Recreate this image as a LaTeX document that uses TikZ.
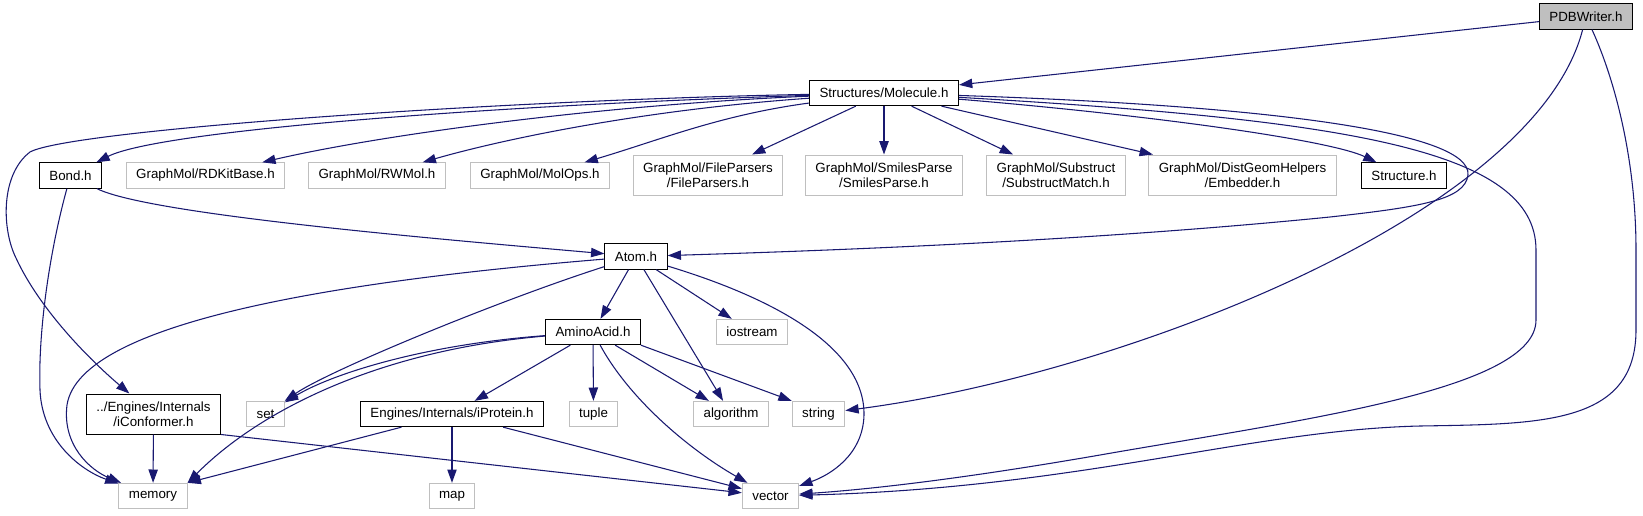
\documentclass[tikz,border=0pt]{standalone}
\usepackage{fontspec}
\setmainfont{Liberation Sans}
\usepackage{tikz}
\usetikzlibrary{arrows.meta}
\usepackage{xcolor}
\definecolor{depblue}{HTML}{191970}
\definecolor{sysgray}{HTML}{BFBFBF}

\begin{document}
\begin{tikzpicture}[
    x=0.75pt, y=-0.75pt,
    hdrbox/.style={draw=black, fill=white, line width=0.75pt, minimum height=19pt,
                   inner xsep=7.5pt, inner ysep=2pt, align=center,
                   font=\fontsize{10}{11.5}\selectfont},
    sysbox/.style={hdrbox, draw=sysgray},
    twoline/.style={minimum height=30pt},
    dep/.style={->, draw=depblue, line width=0.8pt},
    >={Triangle[length=10pt, width=7pt]}
]
\useasboundingbox (0,0) rectangle (1643,515);

\node[hdrbox, fill=sysgray] (pdb) at (1586,16.5) {PDBWriter.h};
\node[hdrbox] (mol) at (884,93) {Structures/Molecule.h};

\node[hdrbox] (bond) at (70.5,175.5) {Bond.h};
\node[sysbox] (rdkit) at (205.5,175.5) {GraphMol/RDKitBase.h};
\node[sysbox] (rwmol) at (377,175.5) {GraphMol/RWMol.h};
\node[sysbox] (molops) at (540,175.5) {GraphMol/MolOps.h};
\node[sysbox, twoline] (fileparsers) at (708,175) {GraphMol/FileParsers\\/FileParsers.h};
\node[sysbox, twoline] (smiles) at (884,175) {GraphMol/SmilesParse\\/SmilesParse.h};
\node[sysbox, twoline] (substruct) at (1056,175) {GraphMol/Substruct\\/SubstructMatch.h};
\node[sysbox, twoline] (embedder) at (1242.5,175) {GraphMol/DistGeomHelpers\\/Embedder.h};
\node[hdrbox] (structure) at (1404,175.5) {Structure.h};

\node[hdrbox] (atom) at (636,256.5) {Atom.h};
\node[hdrbox] (amino) at (593,332) {AminoAcid.h};
\node[sysbox] (iostream) at (752,332) {iostream};

\node[hdrbox, twoline] (iconf) at (153.5,414) {../Engines/Internals\\/iConformer.h};
\node[sysbox] (set) at (265.5,414) {set};
\node[hdrbox] (iprotein) at (452,414) {Engines/Internals/iProtein.h};
\node[sysbox] (tuple) at (593.5,414) {tuple};
\node[sysbox] (algorithm) at (731,414) {algorithm};
\node[sysbox] (string) at (818.5,414) {string};

\node[sysbox] (memory) at (153,496) {memory};
\node[sysbox] (map) at (452,496) {map};
\node[sysbox] (vector) at (770.5,496) {vector};

% PDBWriter.h
\draw[dep] (pdb) -- (mol);
\draw[dep] (pdb) .. controls (1535,215) and (1120,375) .. (string);
\draw[dep] (pdb) .. controls (1615,80) and (1636,160) .. (1636,250) -- (1636,330)
    .. controls (1636,425) and (1540,424) .. (1420,426)
    .. controls (1250,430) and (1080,488) .. (vector);

% Structures/Molecule.h
\draw[dep] (mol) .. controls (500,105) and (160,130) .. (bond);
\draw[dep] (mol) .. controls (600,105) and (380,135) .. (rdkit);
\draw[dep] (mol) .. controls (640,110) and (500,140) .. (rwmol);
\draw[dep] (mol) .. controls (720,115) and (660,140) .. (molops);
\draw[dep] (mol) -- (fileparsers);
\draw[dep] (mol) -- (smiles);
\draw[dep] (mol) -- (substruct);
\draw[dep] (mol) -- (embedder);
\draw[dep] (mol) .. controls (1150,115) and (1330,140) .. (structure);
\draw[dep] (mol) .. controls (1250,105) and (1472,130) .. (1468,175)
    .. controls (1465,200) and (1420,207) .. (1330,217)
    .. controls (1100,240) and (850,250) .. (atom);
\draw[dep] (mol) .. controls (500,100) and (70,130) .. (30,152)
    .. controls (0,175) and (2,230) .. (16,258)
    .. controls (40,310) and (90,360) .. (iconf);
\draw[dep] (mol) .. controls (1350,120) and (1536,150) .. (1536,250) -- (1536,320)
    .. controls (1536,390) and (1300,420) .. (1100,455)
    .. controls (950,481) and (860,490) .. (vector);

% Bond.h
\draw[dep] (bond) .. controls (150,215) and (450,240) .. (atom);
\draw[dep] (bond) .. controls (50,250) and (38,330) .. (40,390)
    .. controls (42,440) and (80,470) .. (memory);

% Atom.h
\draw[dep] (atom) -- (amino);
\draw[dep] (atom) -- (iostream);
\draw[dep] (atom) -- (algorithm);
\draw[dep] (atom) .. controls (500,300) and (330,370) .. (set);
\draw[dep] (atom) .. controls (350,280) and (80,320) .. (67,405)
    .. controls (62,445) and (90,470) .. (memory);
\draw[dep] (atom) .. controls (780,300) and (865,350) .. (864,415)
    .. controls (863,455) and (830,475) .. (vector);

% AminoAcid.h
\draw[dep] (amino) .. controls (420,345) and (330,375) .. (set);
\draw[dep] (amino) .. controls (380,350) and (260,410) .. (memory.north east);
\draw[dep] (amino) -- (iprotein);
\draw[dep] (amino) -- (tuple);
\draw[dep] (amino) -- (algorithm);
\draw[dep] (amino.south east) -- (string.north west);
\draw[dep] (amino) .. controls (630,400) and (690,450) .. (vector);

% iConformer.h / iProtein.h
\draw[dep] (iconf) -- (memory);
\draw[dep] (iconf.south east) -- (vector);
\draw[dep] (iprotein) -- (memory.north east);
\draw[dep] (iprotein) -- (map);
\draw[dep] (iprotein) -- (vector);
\end{tikzpicture}
\end{document}
